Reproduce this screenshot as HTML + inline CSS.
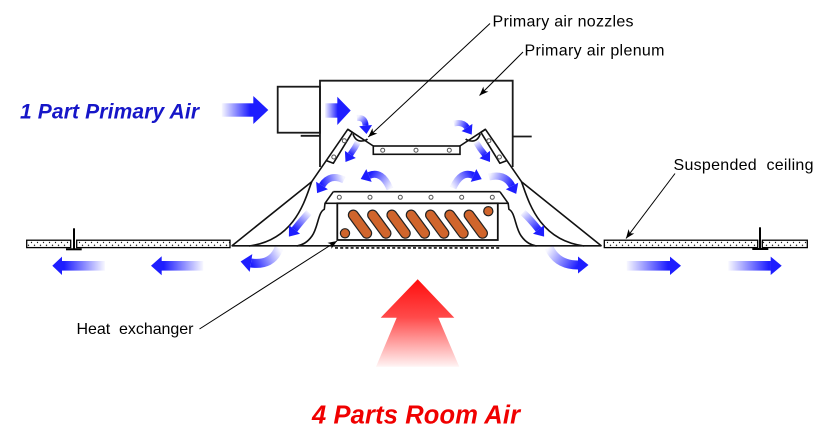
<!DOCTYPE html>
<html>
<head>
<meta charset="utf-8">
<style>
  html,body{margin:0;padding:0;background:#fff;}
  svg{display:block;}
  text{font-family:"Liberation Sans", Arial, sans-serif;}
</style>
</head>
<body>
<svg xmlns="http://www.w3.org/2000/svg" width="833" height="447" viewBox="0 0 833 447">
<defs>
  <pattern id="dots" patternUnits="userSpaceOnUse" x="0" y="240" width="6" height="7.6">
    <rect width="6" height="7.6" fill="#fff"/>
    <circle cx="1.5" cy="2.4" r="0.65" fill="#000"/>
    <circle cx="4.5" cy="5.3" r="0.65" fill="#000"/>
  </pattern>
  <marker id="ah" markerUnits="userSpaceOnUse" viewBox="-10 -5 11 10" markerWidth="11" markerHeight="10" refX="0" refY="0" orient="auto">
    <path d="M0,0 L-9,-3.6 L-6.5,0 L-9,3.6Z" fill="#000"/>
  </marker>
  <linearGradient id="red" gradientUnits="userSpaceOnUse" x1="0" y1="279" x2="0" y2="370">
    <stop offset="0" stop-color="#ff0d0d"/>
    <stop offset="0.42" stop-color="#ff4a4a"/>
    <stop offset="1" stop-color="#ffffff"/>
  </linearGradient>

  <linearGradient id="gA" gradientUnits="userSpaceOnUse" x1="221.7" y1="110" x2="250" y2="110"><stop offset="0" stop-color="#1e1eff" stop-opacity="0.03"/><stop offset="1" stop-color="#1e1eff"/></linearGradient>
  <linearGradient id="gB" gradientUnits="userSpaceOnUse" x1="325" y1="110" x2="338" y2="110"><stop offset="0" stop-color="#1e1eff" stop-opacity="0.05"/><stop offset="1" stop-color="#1e1eff"/></linearGradient>
  <linearGradient id="gC1" gradientUnits="userSpaceOnUse" x1="105" y1="0" x2="64" y2="0"><stop offset="0" stop-color="#1e1eff" stop-opacity="0.03"/><stop offset="1" stop-color="#1e1eff"/></linearGradient>
  <linearGradient id="gC2" gradientUnits="userSpaceOnUse" x1="203.3" y1="0" x2="163.7" y2="0"><stop offset="0" stop-color="#1e1eff" stop-opacity="0.03"/><stop offset="1" stop-color="#1e1eff"/></linearGradient>
  <linearGradient id="gD1" gradientUnits="userSpaceOnUse" x1="626.7" y1="0" x2="668" y2="0"><stop offset="0" stop-color="#1e1eff" stop-opacity="0.03"/><stop offset="1" stop-color="#1e1eff"/></linearGradient>
  <linearGradient id="gD2" gradientUnits="userSpaceOnUse" x1="728.3" y1="0" x2="768.7" y2="0"><stop offset="0" stop-color="#1e1eff" stop-opacity="0.03"/><stop offset="1" stop-color="#1e1eff"/></linearGradient>

  <linearGradient id="g1" gradientUnits="userSpaceOnUse" x1="357" y1="118" x2="365.6" y2="125.6"><stop offset="0" stop-color="#1e1eff" stop-opacity="0.05"/><stop offset="1" stop-color="#1e1eff"/></linearGradient>
  <linearGradient id="g2" gradientUnits="userSpaceOnUse" x1="358" y1="142" x2="350.4" y2="154.4"><stop offset="0" stop-color="#1e1eff" stop-opacity="0.05"/><stop offset="1" stop-color="#1e1eff"/></linearGradient>
  <linearGradient id="g3" gradientUnits="userSpaceOnUse" x1="454" y1="123.5" x2="467" y2="127.5"><stop offset="0" stop-color="#1e1eff" stop-opacity="0.05"/><stop offset="1" stop-color="#1e1eff"/></linearGradient>
  <linearGradient id="g4" gradientUnits="userSpaceOnUse" x1="476" y1="142" x2="484.8" y2="154.6"><stop offset="0" stop-color="#1e1eff" stop-opacity="0.05"/><stop offset="1" stop-color="#1e1eff"/></linearGradient>
  <linearGradient id="g5" gradientUnits="userSpaceOnUse" x1="344" y1="180" x2="322" y2="185.5"><stop offset="0" stop-color="#1e1eff" stop-opacity="0.05"/><stop offset="1" stop-color="#1e1eff"/></linearGradient>
  <linearGradient id="g6" gradientUnits="userSpaceOnUse" x1="390" y1="189" x2="369" y2="175.5"><stop offset="0" stop-color="#1e1eff" stop-opacity="0.05"/><stop offset="1" stop-color="#1e1eff"/></linearGradient>
  <linearGradient id="g7" gradientUnits="userSpaceOnUse" x1="453" y1="188" x2="473.5" y2="175.5"><stop offset="0" stop-color="#1e1eff" stop-opacity="0.05"/><stop offset="1" stop-color="#1e1eff"/></linearGradient>
  <linearGradient id="g8" gradientUnits="userSpaceOnUse" x1="489" y1="177" x2="512" y2="186"><stop offset="0" stop-color="#1e1eff" stop-opacity="0.05"/><stop offset="1" stop-color="#1e1eff"/></linearGradient>
  <linearGradient id="g9" gradientUnits="userSpaceOnUse" x1="309" y1="212.5" x2="294.5" y2="229.5"><stop offset="0" stop-color="#1e1eff" stop-opacity="0.05"/><stop offset="1" stop-color="#1e1eff"/></linearGradient>
  <linearGradient id="g10" gradientUnits="userSpaceOnUse" x1="523" y1="212.5" x2="538.5" y2="229.5"><stop offset="0" stop-color="#1e1eff" stop-opacity="0.05"/><stop offset="1" stop-color="#1e1eff"/></linearGradient>
  <linearGradient id="g11" gradientUnits="userSpaceOnUse" x1="279" y1="248" x2="251" y2="263"><stop offset="0" stop-color="#1e1eff" stop-opacity="0.03"/><stop offset="1" stop-color="#1e1eff"/></linearGradient>
  <linearGradient id="g12" gradientUnits="userSpaceOnUse" x1="549" y1="247.5" x2="578" y2="265"><stop offset="0" stop-color="#1e1eff" stop-opacity="0.03"/><stop offset="1" stop-color="#1e1eff"/></linearGradient>
</defs>

<rect width="833" height="447" fill="#fff"/>

<!-- ===== Plenum box & duct ===== -->
<g fill="none" stroke="#1a1a1a" stroke-width="1.8">
  <path d="M320,167 L320,80.7 L512.7,80.7 L512.7,167"/>
  <rect x="277.7" y="86.7" width="42.3" height="46"/>
  <path d="M300.7,135.8 L320,135.8"/>
  <path d="M512.7,136.5 L531.7,136.5"/>
</g>

<!-- ===== Diffuser left side (mirrored for right) ===== -->
<g id="side" fill="none" stroke="#111" stroke-width="1.6" stroke-linejoin="round">
  <path d="M231.7,246 L311.7,181.7 L347.8,129.3 L373.3,146"/>
  <path d="M326.7,160.7 L333.3,163.3 L352.3,132.3 L347.8,129.3"/>
  <path d="M311.7,181.7 C305,200 295,240 249,246"/>
  <path d="M353,134 Q355.5,141.5 362,141 Q366,140.5 367.5,139"/>
  <path d="M296.7,246 C302,245 307,243 312,236 C318,228 318,212 324.3,209.3 L325,203.3 L333.3,191.7"/>
  <circle cx="344.3" cy="140.7" r="2" stroke="#555" stroke-width="1" fill="#fff"/>
  <circle cx="333.8" cy="157" r="2" stroke="#555" stroke-width="1" fill="#fff"/>
</g>
<g transform="matrix(-1 0 0 1 833.2 0)" fill="none" stroke="#111" stroke-width="1.6" stroke-linejoin="round">
  <path d="M231.7,246 L311.7,181.7 L347.8,129.3 L373.3,146"/>
  <path d="M326.7,160.7 L333.3,163.3 L352.3,132.3 L347.8,129.3"/>
  <path d="M311.7,181.7 C305,200 295,240 249,246"/>
  <path d="M353,134 Q355.5,141.5 362,141 Q366,140.5 367.5,139"/>
  <path d="M296.7,246 C302,245 307,243 312,236 C318,228 318,212 324.3,209.3 L325,203.3 L333.3,191.7"/>
  <circle cx="344.3" cy="140.7" r="2" stroke="#555" stroke-width="1" fill="#fff"/>
  <circle cx="333.8" cy="157" r="2" stroke="#555" stroke-width="1" fill="#fff"/>
</g>

<!-- nozzle plate -->
<rect x="373.3" y="146" width="86.7" height="8.3" fill="#fff" stroke="#111" stroke-width="1.6"/>
<g fill="#fff" stroke="#555" stroke-width="1">
  <circle cx="382.7" cy="150.2" r="2"/>
  <circle cx="416" cy="150.2" r="2"/>
  <circle cx="449.3" cy="150.2" r="2"/>
</g>

<!-- housing top plate -->
<g fill="none" stroke="#111" stroke-width="1.6">
  <path d="M333.3,191.7 L499.9,191.7"/>
  <path d="M325,203.3 L337.3,203.3"/>
  <path d="M497.8,203.3 L508.2,203.3"/>
</g>
<g fill="#fff" stroke="#555" stroke-width="1">
  <circle cx="339.3" cy="197.3" r="2"/>
  <circle cx="370" cy="197.3" r="2"/>
  <circle cx="400.3" cy="197.3" r="2"/>
  <circle cx="431" cy="197.3" r="2"/>
  <circle cx="461.7" cy="197.3" r="2"/>
  <circle cx="492.3" cy="197.3" r="2"/>
</g>

<!-- heat exchanger box -->
<rect x="337.3" y="203.3" width="160.5" height="36.7" fill="#fff" stroke="#111" stroke-width="1.8"/>
<g stroke-linecap="round">
  <g stroke="#222" stroke-width="11">
    <line x1="353.3" y1="215" x2="366.7" y2="233.3"/>
    <line x1="372.6" y1="215" x2="386" y2="233.3"/>
    <line x1="391.9" y1="215" x2="405.3" y2="233.3"/>
    <line x1="411.2" y1="215" x2="424.6" y2="233.3"/>
    <line x1="430.5" y1="215" x2="443.9" y2="233.3"/>
    <line x1="449.8" y1="215" x2="463.2" y2="233.3"/>
    <line x1="469.1" y1="215" x2="482.5" y2="233.3"/>
  </g>
  <g stroke="#d0652c" stroke-width="8.6">
    <line x1="353.3" y1="215" x2="366.7" y2="233.3"/>
    <line x1="372.6" y1="215" x2="386" y2="233.3"/>
    <line x1="391.9" y1="215" x2="405.3" y2="233.3"/>
    <line x1="411.2" y1="215" x2="424.6" y2="233.3"/>
    <line x1="430.5" y1="215" x2="443.9" y2="233.3"/>
    <line x1="449.8" y1="215" x2="463.2" y2="233.3"/>
    <line x1="469.1" y1="215" x2="482.5" y2="233.3"/>
  </g>
</g>
<circle cx="345" cy="233.3" r="4.6" fill="#d0652c" stroke="#222" stroke-width="1.2"/>
<circle cx="488.3" cy="211.2" r="4.6" fill="#d0652c" stroke="#222" stroke-width="1.2"/>

<!-- base line and dashed grille -->
<path d="M231.7,245.8 L601.5,245.8" stroke="#111" stroke-width="1.6"/>
<path d="M335,247.9 L500,247.9" stroke="#111" stroke-width="1.6" stroke-dasharray="3,2.2"/>

<!-- ceiling panels -->
<g stroke="#000" stroke-width="1.3" fill="url(#dots)">
  <rect x="26.7" y="240.2" width="44" height="7.4"/>
  <rect x="76.7" y="240.2" width="153.3" height="7.4"/>
  <rect x="604.3" y="240.2" width="153.4" height="7.4"/>
  <rect x="762.3" y="240.2" width="45" height="7.4"/>
</g>
<g stroke="#000" fill="none">
  <path d="M74,228.3 L74,249.5" stroke-width="2"/>
  <path d="M66,249.3 L81.7,249.3" stroke-width="2"/>
  <path d="M760,227.3 L760,249" stroke-width="2"/>
  <path d="M752.3,249 L768.3,249" stroke-width="2"/>
</g>

<!-- ===== Straight blue arrows ===== -->
<rect x="221.7" y="103.3" width="31.8" height="13.4" fill="url(#gA)"/>
<polygon points="253.3,96 268.3,110 253.3,124" fill="#1e1eff"/>
<rect x="325" y="103.3" width="12.5" height="14.4" fill="url(#gB)"/>
<polygon points="337.3,96.7 350.7,110.5 337.3,125" fill="#1e1eff"/>

<rect x="61.8" y="261" width="43.2" height="9.6" fill="url(#gC1)"/>
<polygon points="62,256.6 52.3,265.8 62,275" fill="#1e1eff"/>
<rect x="161.5" y="261" width="41.8" height="9.6" fill="url(#gC2)"/>
<polygon points="161.7,256.3 151,265.8 161.7,275.3" fill="#1e1eff"/>
<rect x="626.7" y="261" width="43.5" height="9.6" fill="url(#gD1)"/>
<polygon points="670,256.6 681,265.8 670,275" fill="#1e1eff"/>
<rect x="728.3" y="261" width="42.6" height="9.6" fill="url(#gD2)"/>
<polygon points="770.7,256.6 781.7,265.8 770.7,275" fill="#1e1eff"/>

<!-- ===== Curved blue arrows ===== -->
<g fill="none">
  <path d="M357,118 Q365,117 365.6,125.6" stroke="url(#g1)" stroke-width="6"/>
  <path d="M358,142 Q355,148 350.4,154.4" stroke="url(#g2)" stroke-width="6"/>
  <path d="M454,123.5 Q463,121.5 467,127.5" stroke="url(#g3)" stroke-width="6"/>
  <path d="M476,142 Q480,149 484.8,154.6" stroke="url(#g4)" stroke-width="6"/>
  <path d="M344,180 Q330,173 322,185.5" stroke="url(#g5)" stroke-width="7"/>
  <path d="M390,189 Q382,170 369,175.5" stroke="url(#g6)" stroke-width="7"/>
  <path d="M453,188 Q461,170 473.5,175.5" stroke="url(#g7)" stroke-width="7"/>
  <path d="M489,177 Q505,173 512,186" stroke="url(#g8)" stroke-width="7"/>
  <path d="M309,212.5 Q302,220 294.5,229.5" stroke="url(#g9)" stroke-width="7"/>
  <path d="M523,212.5 Q531,220 538.5,229.5" stroke="url(#g10)" stroke-width="7"/>
  <path d="M279,248 Q272,266 251,263" stroke="url(#g11)" stroke-width="9"/>
  <path d="M549,247.5 Q557,265 578,265" stroke="url(#g12)" stroke-width="9"/>
</g>
<g fill="#1e1eff">
  <polygon points="359.2,126.2 366.5,134 372.1,125"/>
  <polygon points="344.9,150.9 345.5,162 355.8,158"/>
  <polygon points="461.6,131.1 471.7,134.6 472.4,123.9"/>
  <polygon points="479.5,158.3 490,162 490.1,150.9"/>
  <polygon points="316.1,181.7 317.1,193.1 327.9,189.3"/>
  <polygon points="366.3,169.1 360.7,179 371.7,181.9"/>
  <polygon points="470.7,181.9 481.7,179.1 476.3,169.1"/>
  <polygon points="505.8,189.3 516.2,193.9 518.2,182.7"/>
  <polygon points="289,225.2 288.9,236.6 300,233.8"/>
  <polygon points="533,233.8 544.1,236.6 544,225.2"/>
  <polygon points="252.3,254.1 240.6,261.5 249.7,271.9"/>
  <polygon points="578,256.5 588.5,265 578,273.5"/>
</g>

<!-- ===== Red room air arrow ===== -->
<polygon points="417.7,279.3 454.3,317.7 438.3,317.7 459.3,366.7 376,366.7 396.7,317.7 380.7,317.7" fill="url(#red)"/>

<!-- ===== Leader lines ===== -->
<g stroke="#000" stroke-width="1" fill="none" marker-end="url(#ah)">
  <path d="M490,23.5 L368.3,137"/>
  <path d="M523,52 L479.5,95.5"/>
  <path d="M675,173.5 L626,238.5"/>
  <path d="M199.5,329 L337,241"/>
</g>

<!-- ===== Labels ===== -->
<g font-size="16" fill="#000">
  <text x="492.5" y="26.5" textLength="141" lengthAdjust="spacing">Primary air nozzles</text>
  <text x="524.5" y="55.5" textLength="140" lengthAdjust="spacing">Primary air plenum</text>
  <text x="673.5" y="170" textLength="140" lengthAdjust="spacing">Suspended&#160; ceiling</text>
  <text x="76.5" y="334" textLength="117" lengthAdjust="spacing">Heat&#160; exchanger</text>
</g>
<text x="20" y="118.3" font-size="21" font-weight="bold" font-style="italic" fill="#1616c8" textLength="179" lengthAdjust="spacing">1 Part Primary Air</text>
<text x="312" y="423.3" font-size="25.5" font-weight="bold" font-style="italic" fill="#f00000" textLength="208" lengthAdjust="spacing">4 Parts Room Air</text>
</svg>
</body>
</html>
